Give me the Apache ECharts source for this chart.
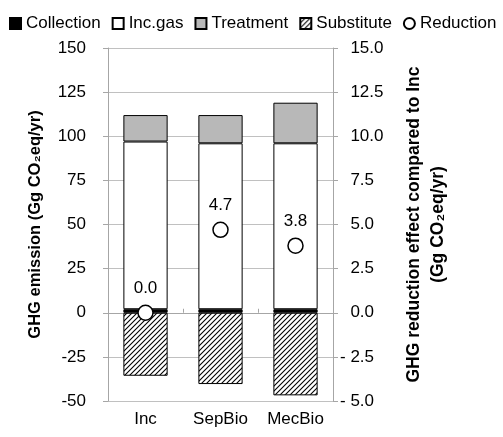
<!DOCTYPE html>
<html>
<head>
<meta charset="utf-8">
<script src="https://cdn.jsdelivr.net/npm/echarts@6/dist/echarts.min.js"></script>
<style>
html,body{margin:0;padding:0;background:#fff;}
#chart{width:503px;height:437px;}
</style>
</head>
<body>
<div id="chart"></div>
<script>
var categories = ['Inc', 'SepBio', 'MecBio'];
var collection = [2, 2, 2];
var incGas = [95, 94, 94];
var treatment = [15, 16, 23];
var substitute = [-35.7, -40.4, -46.8];
var reduction = [0.0, 4.7, 3.8];
var leftTicks = {min: -50, max: 150, interval: 25};
var rightTicks = {min: -5, max: 15, interval: 2.5};

var FONT = '"Liberation Sans", Arial, Helvetica, sans-serif';

function hatch() {
  var c = document.createElement('canvas');
  c.width = 5; c.height = 5;
  var g = c.getContext('2d');
  g.fillStyle = '#fff';
  g.fillRect(0, 0, 5, 5);
  g.strokeStyle = '#000';
  g.lineWidth = 1.1;
  g.beginPath();
  g.moveTo(-1, 6); g.lineTo(6, -1);
  g.moveTo(-4, 4); g.lineTo(4, -4);
  g.moveTo(1, 9); g.lineTo(9, 1);
  g.stroke();
  return c;
}

var chart = echarts.init(document.getElementById('chart'), null, {renderer: 'canvas'});
var option = {
  animation: false,
  textStyle: {fontFamily: FONT},
  legend: {
    top: 15, left: 9, width: 494, padding: 0, itemGap: 11, itemWidth: 11, itemHeight: 11,
    textStyle: {fontFamily: FONT, fontSize: 17, color: '#000'},
    data: [
      {name: 'Collection', icon: 'rect'},
      {name: 'Inc.gas', icon: 'rect'},
      {name: 'Treatment', icon: 'rect'},
      {name: 'Substitute', icon: 'rect'},
      {name: 'Reduction', icon: 'circle'}
    ]
  },
  grid: {left: 108, right: 170, top: 48, bottom: 36},
  xAxis: [
    {
      type: 'category', data: categories, position: 'bottom',
      axisLine: {onZero: true, lineStyle: {color: '#a6a6a6', width: 1}},
      axisTick: {show: true, inside: true, length: 4, lineStyle: {color: '#a6a6a6'}},
      axisLabel: {show: false}
    },
    {
      type: 'category', data: categories, position: 'bottom',
      axisLine: {show: false, onZero: false},
      axisTick: {show: false},
      axisLabel: {show: true, margin: 10, fontSize: 17, color: '#000', fontFamily: FONT}
    }
  ],
  yAxis: [
    {
      type: 'value', min: leftTicks.min, max: leftTicks.max, interval: leftTicks.interval,
      position: 'left',
      axisLine: {show: true, lineStyle: {color: '#a6a6a6'}},
      axisTick: {show: true, length: 5, lineStyle: {color: '#a6a6a6'}},
      splitLine: {show: true, lineStyle: {color: '#c0c0c0'}},
      axisLabel: {margin: 22, fontSize: 17, color: '#000', fontFamily: FONT},
      name: 'GHG emission (Gg CO\u2082eq/yr)',
      nameLocation: 'middle', nameGap: 64, nameRotate: 90,
      nameTextStyle: {fontSize: 16.5, fontWeight: 'bold', color: '#000', fontFamily: FONT}
    },
    {
      type: 'value', min: rightTicks.min, max: rightTicks.max, interval: rightTicks.interval,
      position: 'right',
      axisLine: {show: true, lineStyle: {color: '#a6a6a6'}},
      axisTick: {show: true, length: 5, lineStyle: {color: '#a6a6a6'}},
      splitLine: {show: false},
      axisLabel: {
        margin: 7, fontSize: 17, color: '#000', fontFamily: FONT,
        formatter: function (v) {
          if (v < 0) return '- ' + Math.abs(v).toFixed(1);
          return '{h|- }' + v.toFixed(1);
        },
        rich: {h: {color: 'rgba(0,0,0,0)', fontSize: 17, fontFamily: FONT}}
      },
      name: 'GHG reduction effect compared to Inc\n(Gg CO\u2082eq/yr)',
      nameLocation: 'middle', nameGap: 69, nameRotate: 90,
      nameTextStyle: {fontSize: 17.5, fontWeight: 'bold', color: '#000', fontFamily: FONT, lineHeight: 24}
    }
  ],
  series: [
    {name: 'Collection', type: 'bar', stack: 'a', barWidth: '59%', data: collection,
     itemStyle: {color: '#000', borderColor: '#000', borderWidth: 1}},
    {name: 'Inc.gas', type: 'bar', stack: 'a', data: incGas,
     itemStyle: {color: '#fff', borderColor: '#000', borderWidth: 1}},
    {name: 'Treatment', type: 'bar', stack: 'a', data: treatment,
     itemStyle: {color: '#b8b8b8', borderColor: '#000', borderWidth: 1}},
    {name: 'Substitute', type: 'bar', stack: 'a', data: substitute,
     itemStyle: {color: {image: hatch(), repeat: 'repeat'}, borderColor: '#000', borderWidth: 1}},
    {name: 'Reduction', type: 'scatter', yAxisIndex: 1, data: reduction,
     symbol: 'circle', symbolSize: 15,
     itemStyle: {color: '#fff', borderColor: '#000', borderWidth: 1.5, opacity: 1},
     label: {show: true, position: 'top', distance: 8, fontSize: 17, color: '#000', fontFamily: FONT,
             formatter: function (p) { return p.value.toFixed(1); }},
     z: 5}
  ]
};
chart.setOption(option);
</script>
</body>
</html>
